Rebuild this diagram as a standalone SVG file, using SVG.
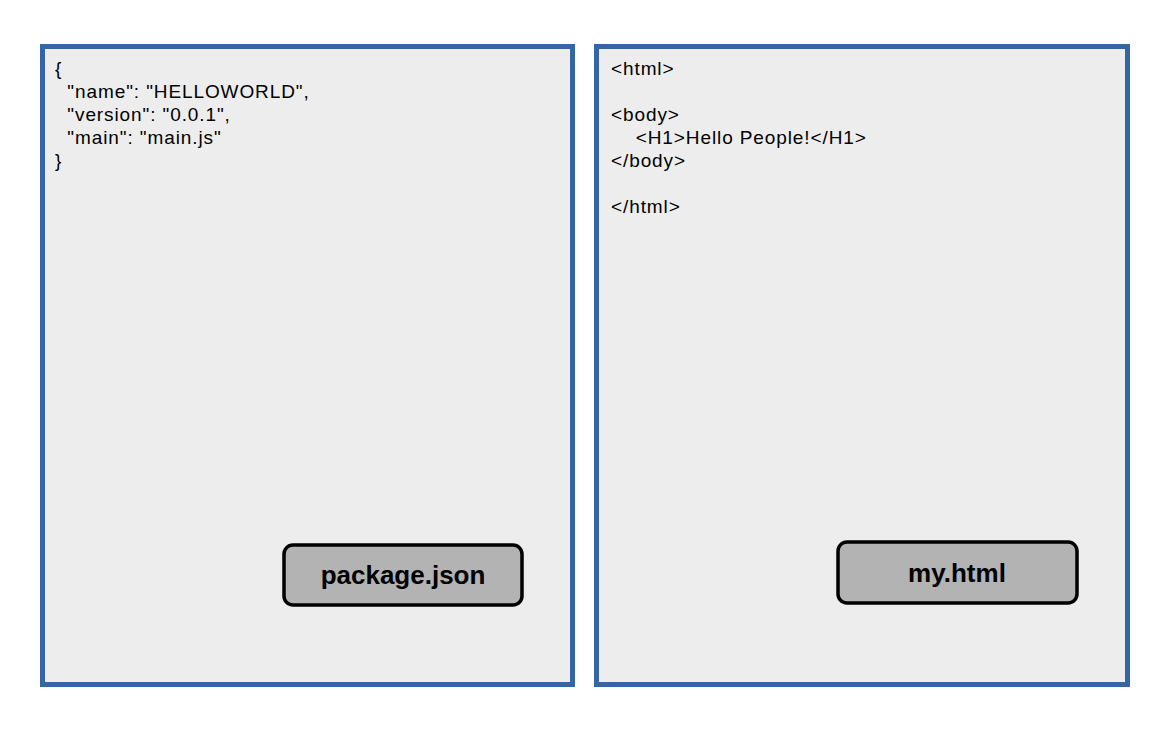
<svg xmlns="http://www.w3.org/2000/svg" width="1169" height="730" viewBox="0 0 1169 730">
<style>
.panel{fill:#ededed;stroke:#3465a4;stroke-width:5}
.btn{fill:#b3b3b3;stroke:#000;stroke-width:3.5}
.code{font-family:"Liberation Sans",Arial,sans-serif;font-size:19px;letter-spacing:0.9px;fill:#000}
.lbl{font-family:"Liberation Sans",Arial,sans-serif;font-size:26px;font-weight:bold;fill:#000;text-anchor:middle}
</style>
<rect width="1169" height="730" fill="#fff"/>
<g id="package-panel">
<rect class="panel" x="42.5" y="46.5" width="530" height="638"/>
<text class="code" xml:space="preserve"><tspan x="55" y="75">{</tspan><tspan x="55" y="98">  "name": "HELLOWORLD",</tspan><tspan x="55" y="121">  "version": "0.0.1",</tspan><tspan x="55" y="144">  "main": "main.js"</tspan><tspan x="55" y="167">}</tspan></text>
</g>
<g id="package-label">
<rect class="btn" x="284" y="545" width="238" height="60" rx="9"/>
<text class="lbl" x="403" y="584">package.json</text>
</g>
<g id="html-panel">
<rect class="panel" x="596.5" y="46.5" width="531" height="638"/>
<text class="code" xml:space="preserve"><tspan x="611" y="75">&lt;html&gt;</tspan><tspan x="611" y="121">&lt;body&gt;</tspan><tspan x="611" y="144">    &lt;H1&gt;Hello People!&lt;/H1&gt;</tspan><tspan x="611" y="167">&lt;/body&gt;</tspan><tspan x="611" y="213">&lt;/html&gt;</tspan></text>
</g>
<g id="html-label">
<rect class="btn" x="838" y="542" width="239" height="61" rx="9"/>
<text class="lbl" x="957" y="582">my.html</text>
</g>
<g id="connectors"/>
</svg>
